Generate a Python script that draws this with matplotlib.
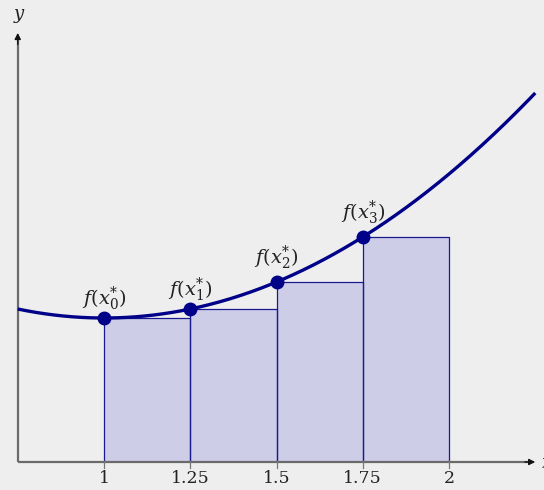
import numpy as np
import matplotlib.pyplot as plt
from matplotlib.patches import Rectangle

plt.rcParams['mathtext.fontset'] = 'dejavuserif'
plt.rcParams['font.family'] = 'DejaVu Serif'

# data
x_left = [1.0, 1.25, 1.5, 1.75]
width = 0.25
tick_vals = [1, 1.25, 1.5, 1.75, 2]
tick_labels = ['1', '1.25', '1.5', '1.75', '2']
point_labels = [r'$f(x_0^{*})$', r'$f(x_1^{*})$', r'$f(x_2^{*})$', r'$f(x_3^{*})$']

def f(x):
    return (np.asarray(x) - 1.0) ** 2 + 1.0

bg = '#eeeeee'
navy = '#000088'
fill = '#cdcde8'

fig = plt.figure(figsize=(5.44, 4.9), dpi=100, facecolor=bg)
ax = fig.add_axes([0, 0, 1, 1])
ax.set_facecolor(bg)
ax.set_xlim(1 - 104/345, 1 + 440/345)
ax.set_ylim(-28/144, 462/144)
ax.axis('off')

# rectangles
for xl in x_left:
    h = float(f(xl))
    ax.add_patch(Rectangle((xl, 0), width, h, facecolor=fill, edgecolor='none', zorder=1))
    ax.plot([xl, xl, xl + width, xl + width], [0, h, h, 0], color='#1a1a90', lw=0.9, zorder=2)

# axes
ax.plot([0.75, 2.23], [0, 0], color='#6a6a6a', lw=1.6, zorder=3, solid_capstyle='butt')
ax.plot([0.75, 0.75], [0, 2.95], color='#6a6a6a', lw=1.6, zorder=3, solid_capstyle='butt')
ax.annotate('', xy=(2.25, 0), xytext=(2.22, 0),
            arrowprops=dict(arrowstyle='-|>', color='#111111', lw=1.0, mutation_scale=9,
                            shrinkA=0, shrinkB=0), zorder=3)
ax.annotate('', xy=(0.75, 2.98), xytext=(0.75, 2.90),
            arrowprops=dict(arrowstyle='-|>', color='#111111', lw=1.0, mutation_scale=9,
                            shrinkA=0, shrinkB=0), zorder=3)
ax.text(0.755, 3.10, r'$y$', ha='center', va='center', fontsize=13, color='#222222')
ax.text(2.268, -0.01, r'$x$', ha='left', va='center', fontsize=13, color='#222222')

for tv, tl in zip(tick_vals, tick_labels):
    ax.plot([tv, tv], [0.01, -0.045], color='#777777', lw=0.9, zorder=3)
    ax.text(tv, -0.115, tl, ha='center', va='center', fontsize=12.5, color='#222222')

# curve
xs = np.linspace(0.75, 2.25, 400)
ax.plot(xs, f(xs), color=navy, lw=2.4, zorder=4, solid_capstyle='butt')

# points
ax.plot(x_left, f(x_left), 'o', color=navy, markersize=9, zorder=5)
offsets = [0.13, 0.13, 0.17, 0.17]
for xl, lab, off in zip(x_left, point_labels, offsets):
    ax.text(xl, float(f(xl)) + off, lab, ha='center', va='center', fontsize=14, color='#222222')

fig.savefig('out.png', dpi=100, facecolor=bg)
